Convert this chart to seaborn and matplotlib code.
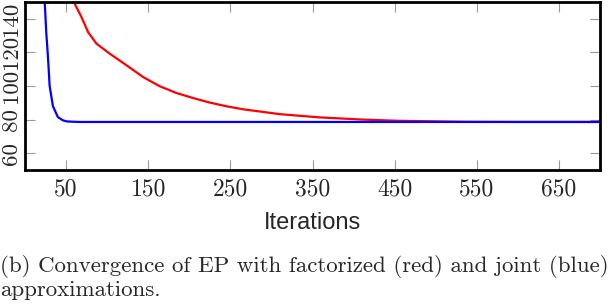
import numpy as np
import pandas as pd
import matplotlib
matplotlib.use('Agg')
import matplotlib.pyplot as plt
import seaborn as sns

# values
iters_joint = [20, 24, 26, 28, 30, 34, 40, 46, 51, 60, 67, 100, 200, 300, 400, 500, 600, 700]
ep_joint = [175, 150, 131, 117, 100, 88, 81.5, 79.6, 78.9, 78.7, 78.6, 78.6, 78.6, 78.6, 78.6, 78.6, 78.6, 78.6]

iters_fact = [50, 58.5, 68.8, 76.9, 87, 103.3, 123.7, 143.9, 164.3, 184.6, 204.9, 225.2,
              245.6, 265.9, 286.2, 311, 359, 412, 453, 534, 600, 700]
ep_fact = [163, 150.9, 141, 132, 125.2, 119.2, 112.3, 105.3, 99.8, 95.8, 92.8, 90.1,
           87.9, 86.1, 84.8, 83.2, 81.3, 80, 79.3, 78.7, 78.6, 78.6]

xticks = [50, 150, 250, 350, 450, 550, 650]
yticks = [60, 80, 100, 120, 140]

df_joint = pd.DataFrame({'it': iters_joint, 'val': ep_joint})
df_fact = pd.DataFrame({'it': iters_fact, 'val': ep_fact})

sns.set_style('white')

fig = plt.figure(figsize=(6.08, 3.06), dpi=100)
ax = fig.add_axes([25 / 608, 1 - 170 / 306, 575 / 608, 168 / 306])

sns.lineplot(data=df_fact, x='it', y='val', color='#ff0000', linewidth=1.6, ax=ax)
sns.lineplot(data=df_joint, x='it', y='val', color='#0000ff', linewidth=1.6, ax=ax)

ax.set_xlim(0, 700)
ax.set_ylim(50, 150)
ax.set_xticks(xticks)
ax.set_yticks(yticks)
ax.set_xticklabels([str(t) for t in xticks], fontfamily='cmr10', fontsize=17)
ax.set_yticklabels([str(t) for t in yticks], fontfamily='cmr10', fontsize=16.5,
                   rotation=90, va='center')
ax.tick_params(direction='in', length=7, width=0.8, color='#999999',
               top=True, right=True, bottom=True, left=True)
ax.tick_params(axis='x', pad=6)
ax.tick_params(axis='y', pad=3)
for sp in ax.spines.values():
    sp.set_color('black')
    sp.set_linewidth(2)

ax.set_xlabel('Iterations', fontfamily='Liberation Sans', fontsize=17, labelpad=8)
ax.set_ylabel('')

fig.text(0.0, 1 - 272 / 306, '(b) Convergence of EP with factorized (red) and joint (blue)',
         fontfamily='cmr10', fontsize=16.5, ha='left', va='baseline')
fig.text(0.0, 1 - 296 / 306, 'approximations.',
         fontfamily='cmr10', fontsize=16.5, ha='left', va='baseline')

fig.savefig('out.png', dpi=100)
